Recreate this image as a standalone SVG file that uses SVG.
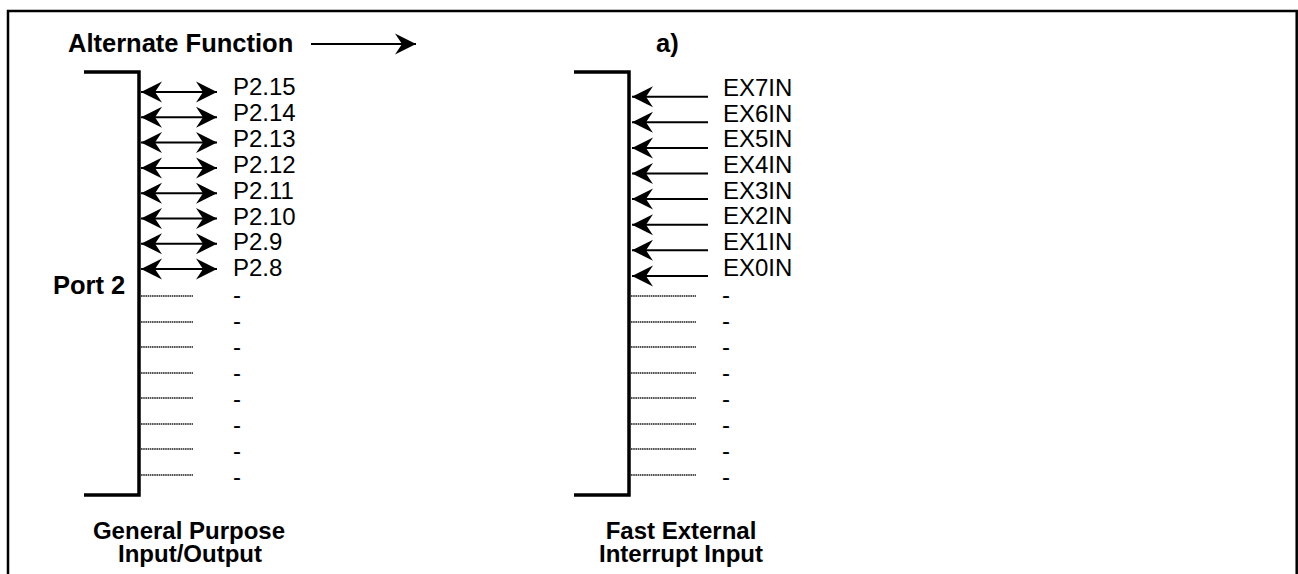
<svg xmlns="http://www.w3.org/2000/svg" width="1298" height="574" viewBox="0 0 1298 574">
<style>
text{font-family:"Liberation Sans",Arial,sans-serif;fill:#000}
.r{font-size:24px}
.b{font-size:25.5px;font-weight:bold}
.f{font-size:24px;font-weight:bold;text-anchor:middle}
.ar{stroke:#000;stroke-width:2;fill:none;marker-end:url(#ah)}
.bi{stroke:#000;stroke-width:2;fill:none;marker-start:url(#ah);marker-end:url(#ah)}
.dot{stroke:#555;stroke-width:2;stroke-dasharray:1.6 0.6;fill:none}
.br{stroke:#000;stroke-width:3.5;fill:none}
</style>
<defs>
<marker id="ah" viewBox="-21 -11 22 22" refX="0" refY="0" markerWidth="22" markerHeight="22" markerUnits="userSpaceOnUse" orient="auto-start-reverse">
<path d="M0,0 L-21,-10.5 L-14,0 L-21,10.5 Z" fill="#000"/>
</marker>
</defs>
<rect width="1298" height="574" fill="#fff"/>
<path d="M8,574 V11 H1296.7 V574" stroke="#000" stroke-width="2.5" fill="none"/>

<g id="header">
<text class="b" x="68" y="52">Alternate Function</text>
<text class="b" x="656" y="52">a)</text>
</g>

<g id="port2">
<path class="br" d="M84,72 H139 V495 H84"/>
<text class="b" x="53" y="294">Port 2</text>
<text class="r" x="233" y="95">P2.15</text>
<text class="r" x="233" y="120.9">P2.14</text>
<text class="r" x="233" y="146.8">P2.13</text>
<text class="r" x="233" y="172.7">P2.12</text>
<text class="r" x="233" y="198.6">P2.11</text>
<text class="r" x="233" y="224.5">P2.10</text>
<text class="r" x="233" y="250.4">P2.9</text>
<text class="r" x="233" y="276.3">P2.8</text>
<text class="r" x="233" y="303">-</text>
<text class="r" x="233" y="329">-</text>
<text class="r" x="233" y="355">-</text>
<text class="r" x="233" y="381">-</text>
<text class="r" x="233" y="407">-</text>
<text class="r" x="233" y="433">-</text>
<text class="r" x="233" y="459">-</text>
<text class="r" x="233" y="485">-</text>
<text class="f" x="189" y="539">General Purpose</text>
<text class="f" x="190" y="562">Input/Output</text>
</g>

<g id="fastint">
<path class="br" d="M574,72 H629 V495 H574"/>
<text class="r" x="723" y="96">EX7IN</text>
<text class="r" x="723" y="121.7">EX6IN</text>
<text class="r" x="723" y="147.3">EX5IN</text>
<text class="r" x="723" y="173">EX4IN</text>
<text class="r" x="723" y="198.7">EX3IN</text>
<text class="r" x="723" y="224.3">EX2IN</text>
<text class="r" x="723" y="250">EX1IN</text>
<text class="r" x="723" y="275.7">EX0IN</text>
<text class="r" x="722" y="303">-</text>
<text class="r" x="722" y="329">-</text>
<text class="r" x="722" y="355">-</text>
<text class="r" x="722" y="381">-</text>
<text class="r" x="722" y="407">-</text>
<text class="r" x="722" y="433">-</text>
<text class="r" x="722" y="459">-</text>
<text class="r" x="722" y="485">-</text>
<text class="f" x="681" y="539">Fast External</text>
<text class="f" x="681" y="562">Interrupt Input</text>
</g>

<g id="connectors">
<line class="ar" x1="311" y1="44" x2="416" y2="44"/>
<line class="bi" x1="141" y1="92" x2="217" y2="92"/>
<line class="bi" x1="141" y1="117.3" x2="217" y2="117.3"/>
<line class="bi" x1="141" y1="142.6" x2="217" y2="142.6"/>
<line class="bi" x1="141" y1="167.9" x2="217" y2="167.9"/>
<line class="bi" x1="141" y1="193.2" x2="217" y2="193.2"/>
<line class="bi" x1="141" y1="218.5" x2="217" y2="218.5"/>
<line class="bi" x1="141" y1="243.8" x2="217" y2="243.8"/>
<line class="bi" x1="141" y1="269.1" x2="217" y2="269.1"/>
<line class="ar" x1="708" y1="96.7" x2="632" y2="96.7"/>
<line class="ar" x1="708" y1="122.3" x2="632" y2="122.3"/>
<line class="ar" x1="708" y1="147.9" x2="632" y2="147.9"/>
<line class="ar" x1="708" y1="173.5" x2="632" y2="173.5"/>
<line class="ar" x1="708" y1="199.1" x2="632" y2="199.1"/>
<line class="ar" x1="708" y1="224.7" x2="632" y2="224.7"/>
<line class="ar" x1="708" y1="250.3" x2="632" y2="250.3"/>
<line class="ar" x1="708" y1="275.9" x2="632" y2="275.9"/>
<line class="dot" x1="141" y1="296" x2="193" y2="296"/>
<line class="dot" x1="141" y1="322" x2="193" y2="322"/>
<line class="dot" x1="141" y1="347" x2="193" y2="347"/>
<line class="dot" x1="141" y1="373" x2="193" y2="373"/>
<line class="dot" x1="141" y1="398" x2="193" y2="398"/>
<line class="dot" x1="141" y1="424" x2="193" y2="424"/>
<line class="dot" x1="141" y1="449" x2="193" y2="449"/>
<line class="dot" x1="141" y1="475" x2="193" y2="475"/>
<line class="dot" x1="631" y1="296" x2="696" y2="296"/>
<line class="dot" x1="631" y1="322" x2="696" y2="322"/>
<line class="dot" x1="631" y1="347" x2="696" y2="347"/>
<line class="dot" x1="631" y1="373" x2="696" y2="373"/>
<line class="dot" x1="631" y1="398" x2="696" y2="398"/>
<line class="dot" x1="631" y1="424" x2="696" y2="424"/>
<line class="dot" x1="631" y1="449" x2="696" y2="449"/>
<line class="dot" x1="631" y1="475" x2="696" y2="475"/>
</g>
</svg>
